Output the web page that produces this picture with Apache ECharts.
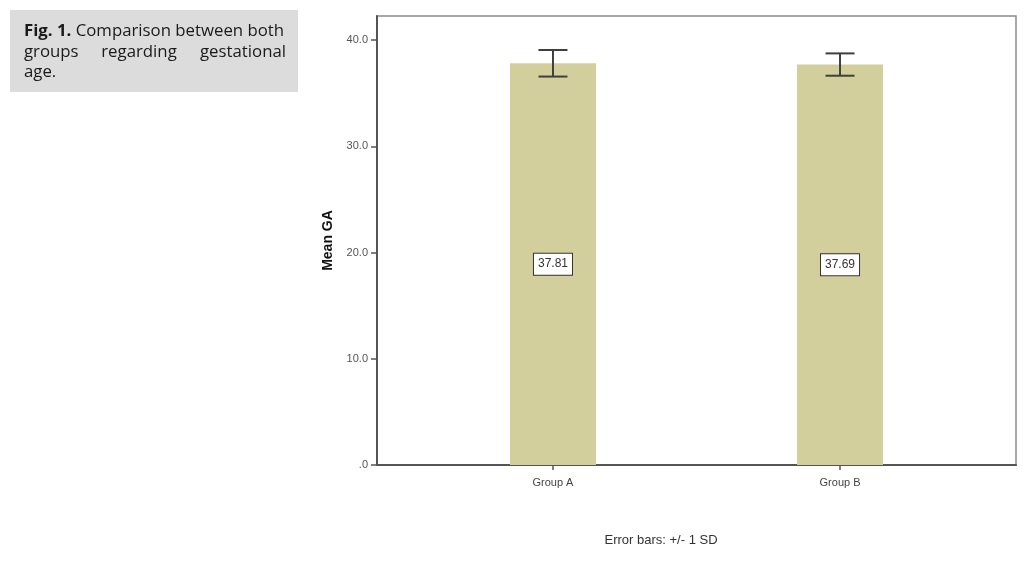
<!DOCTYPE html>
<html>
<head>
<meta charset="utf-8">
<script src="https://cdn.jsdelivr.net/npm/echarts@6/dist/echarts.min.js"></script>
<style>
html,body{margin:0;padding:0;background:#fff;}
#chart{width:1035px;height:563px;}
</style>
</head>
<body>
<div id="chart"></div>
<script>
const categories = ['Group A', 'Group B'];
const means = [37.81, 37.69];
const sds = [1.25, 1.05];
const yTickValues = [0, 10, 20, 30, 40];
const yAxisTitle = 'Mean GA';
const footnote = 'Error bars: +/- 1 SD';

const chart = echarts.init(document.getElementById('chart'));
const barData = categories.map((c, i) => [i, means[i], sds[i]]);
const capFont = '16.8px "Open Sans"';

const option = {
  animation: false,
  backgroundColor: '#ffffff',
  grid: {
    left: 377, top: 16, width: 639, height: 449,
    show: true, borderColor: '#8a8a8a', borderWidth: 1.5, backgroundColor: 'transparent'
  },
  xAxis: {
    type: 'value', min: -0.613, max: 1.613,
    splitLine: { show: false },
    axisLine: { show: true, onZero: false, lineStyle: { color: '#555', width: 2 } },
    axisTick: { show: true, customValues: [0, 1], length: 5, lineStyle: { color: '#555', width: 1.5 } },
    axisLabel: {
      customValues: [0, 1], margin: 12,
      formatter: v => categories[Math.round(v)] || '',
      color: '#444', fontFamily: 'Liberation Sans, Arial', fontSize: 11
    }
  },
  yAxis: {
    type: 'value', min: 0, max: 42.26,
    splitLine: { show: false },
    axisLine: { show: true, onZero: false, lineStyle: { color: '#555', width: 2 } },
    axisTick: { show: true, customValues: yTickValues, length: 6, lineStyle: { color: '#555', width: 1.5 } },
    axisLabel: {
      customValues: yTickValues, margin: 9,
      formatter: v => (v === 0 ? '.0' : v.toFixed(1)),
      color: '#555', fontFamily: 'Liberation Sans, Arial', fontSize: 11
    },
    name: yAxisTitle, nameLocation: 'middle', nameGap: 42, nameRotate: 90,
    nameTextStyle: { color: '#111', fontFamily: 'Liberation Sans, Arial', fontSize: 14, fontWeight: 'bold' }
  },
  series: [
    {
      type: 'custom',
      data: barData,
      encode: { x: 0, y: 1 },
      renderItem: function (params, api) {
        const x = api.value(0), m = api.value(1), sd = api.value(2);
        const top = api.coord([x, m]);
        const base = api.coord([x, 0]);
        const mid = api.coord([x, m / 2]);
        const hi = api.coord([x, m + sd]);
        const lo = api.coord([x, m - sd]);
        const bw = 86, cap = 29;
        return {
          type: 'group',
          children: [
            { type: 'rect', shape: { x: top[0] - bw / 2, y: top[1], width: bw, height: base[1] - top[1] },
              style: { fill: '#d3cf9c' } },
            { type: 'line', shape: { x1: hi[0], y1: hi[1], x2: lo[0], y2: lo[1] },
              style: { stroke: '#3f3f3f', lineWidth: 2 } },
            { type: 'line', shape: { x1: hi[0] - cap / 2, y1: hi[1], x2: hi[0] + cap / 2, y2: hi[1] },
              style: { stroke: '#3f3f3f', lineWidth: 2 } },
            { type: 'line', shape: { x1: lo[0] - cap / 2, y1: lo[1], x2: lo[0] + cap / 2, y2: lo[1] },
              style: { stroke: '#3f3f3f', lineWidth: 2 } },
            { type: 'text', x: mid[0], y: mid[1],
              style: {
                text: m.toFixed(2), align: 'center', verticalAlign: 'middle',
                fill: '#333', font: '12px "Liberation Sans", Arial',
                backgroundColor: '#ffffff', borderColor: '#333', borderWidth: 1,
                padding: [5, 4, 4, 4]
              } }
          ]
        };
      }
    }
  ],
  graphic: [
    { type: 'rect', left: 10, top: 10, shape: { width: 288, height: 82 }, style: { fill: '#dcdcdc' }, silent: true },
    { type: 'text', x: 24, y: 31.5,
      style: { text: '{b|Fig. 1.} Comparison between both', font: capFont, fill: '#1a1a1a', verticalAlign: 'middle',
        rich: { b: { font: 'bold ' + capFont, fill: '#1a1a1a' } } } },
    { type: 'text', x: 24, y: 52, style: { text: 'groups', font: capFont, fill: '#1a1a1a', verticalAlign: 'middle' } },
    { type: 'text', x: 139, y: 52, style: { text: 'regarding', font: capFont, fill: '#1a1a1a', align: 'center', verticalAlign: 'middle' } },
    { type: 'text', x: 286, y: 52, style: { text: 'gestational', font: capFont, fill: '#1a1a1a', align: 'right', verticalAlign: 'middle' } },
    { type: 'text', x: 24, y: 72, style: { text: 'age.', font: capFont, fill: '#1a1a1a', verticalAlign: 'middle' } },
    { type: 'text', x: 661, y: 540, style: { text: footnote, font: '13px "Liberation Sans", Arial', fill: '#333', align: 'center', verticalAlign: 'middle' } }
  ]
};
chart.setOption(option);
</script>
</body>
</html>
